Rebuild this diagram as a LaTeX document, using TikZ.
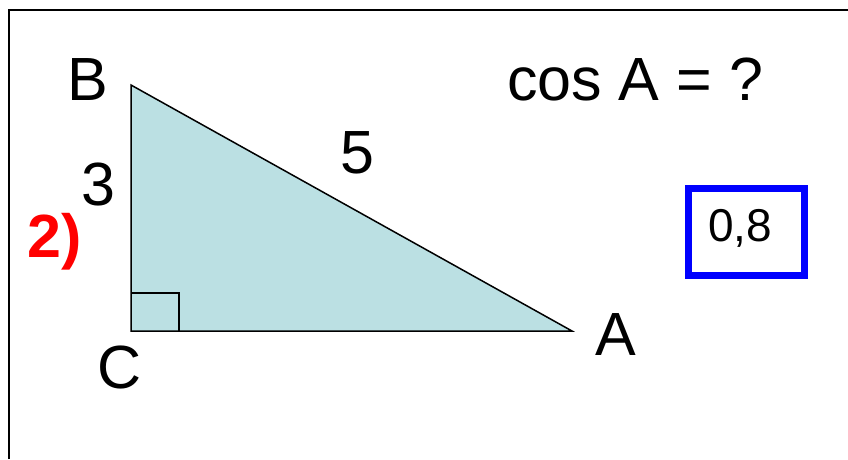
\documentclass[tikz,border=0pt]{standalone}
\usepackage{fontspec}
\setmainfont{Liberation Sans}
\definecolor{trifill}{RGB}{187,224,227}
\begin{document}
\begin{tikzpicture}[x=1pt,y=-1pt,
  lbl/.style={inner sep=0pt,anchor=base,font=\fontsize{61}{61}\selectfont},
  edge/.style={line width=1.5pt,line join=miter}]
\useasboundingbox (0,0) rectangle (848,459);
% frame
\draw[line width=2pt] (9,459) -- (9,10) -- (848,10);
% triangle
\coordinate (B) at (131,85);
\coordinate (C) at (131,331);
\coordinate (A) at (572,331);
\fill[trifill] (B) -- (C) -- (A) -- cycle;
\draw[edge] (B) -- (C) -- (A) -- cycle;
\draw[edge] (131,293) -- (179,293) -- (179,331);
% labels
\node[lbl] (lB) at (88,100) {B};
\node[lbl] (lC) at (120,388) {C};
\node[lbl] (lA) at (616,355) {A};
\node[lbl] (l3) at (98,205) {3};
\node[lbl] (l5) at (357,173) {5};
\node[lbl] (q) at (635,100) {cos A = ?};
\node[lbl,text=red,font=\fontsize{61}{61}\selectfont\bfseries] (n2) at (55,257) {2)};
% answer box
\draw[blue,line width=7pt] (688,188) rectangle (804,275);
\node[inner sep=0pt,anchor=base,font=\fontsize{46}{46}\selectfont] (ans) at (740,241) {0,8};
\end{tikzpicture}
\end{document}
